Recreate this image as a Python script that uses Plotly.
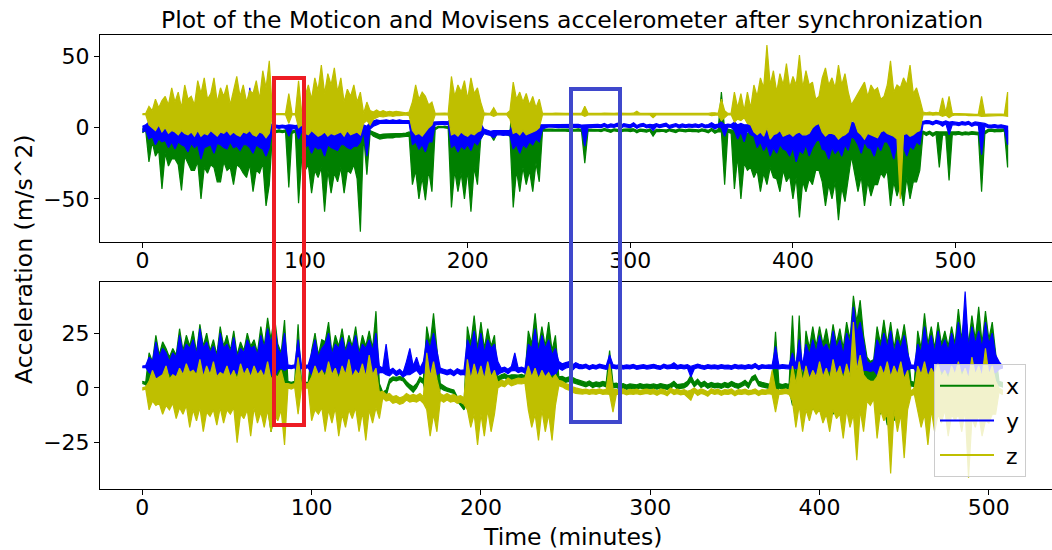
import numpy as np
import plotly.graph_objects as go

# ---------------- data ----------------
# Each signal is stored as its per-bin maximum (hi) and minimum (lo), one bin every 2 minutes,
# exactly as a dense accelerometer trace looks when drawn on screen.
bin_minutes = 2.0

# ---- Top panel (Moticon) ----
top_x_hi = [
    -1, 0, -2, -1, -3, -2, -3, -2, -4, -3,            # 0
    -4, -3, -3, -4, -5, -3, -4, -3, -6, -4,           # 20
    -4, -3, -5, -4, -3, -4, -5, -3, -4, -4,           # 40
    -5, -4, -3, -4, -5, -4, -4, -5, -6, -4,           # 60
    -1.5, -2, -1.5, -2, -1.5, -3, -2, -1.5, -4, -3,   # 80
    -4, -3, -5, -4, -4, -3, -5, -4, -4, -4,           # 100
    -5, -4, -3, -4, -5, -4, -4, -3, -2, -3,           # 120
    -2, -3, -4, -5, -4.5, -4.5, -4, -4.5, -4, -4.2,   # 140
    -4, -3.8, -3, -4, -5, -5, -6, -4, -3, -3,         # 160
    0, 1, 1, 1, 0.8, -4, -5, -4, -5, -4,              # 180
    -4, -5, -4, -3, -2, -2.5, -2.5, -3, -3, -2.5,     # 200
    -2.5, -2.5, -3, -3, 25, -4, -3, -4, -3, -4,       # 220
    -3, -3, -2, -1, -1, -0.8, -1, -1.2, -0.9, -1,     # 240
    -1, -1.2, -0.9, -1.1, -0.8, -1.2, -1, -1, -0.9, -1.1,   # 260
    -0.9, -1.3, -0.6, -1.2, -1.6, -0.8, -1.2, -1.5, -1, -0.9,  # 280
    -1.3, -0.8, -1.8, -1, -1.2, -1.6, -0.9, -3, -1.2, -1.3,  # 300
    -1.1, -1.6, -0.8, -1.2, -1.7, -0.9, -1.2, -1.5, -1, -1.3,  # 320
    -1.2, -1.6, -0.9, -1.3, -1.8, -0.5, -2, -1.3, 25, -2,  # 340
    -1, -1.5, -2, 2, -3, -3, -4, -3, -4, -5,          # 360
    -5, -6, -4, -5, -6, -5, -4, -6, -5, -6,           # 380
    -6, -5, -6, -5, -4, -6, -5, -4, -3, -5,           # 400
    -6, -5, -4, -6, -5, -6, -4, -5, -3, -4,           # 420
    -5, -4, -6, -5, -4, -6, -5, -4, -3, -4,           # 440
    -6, -5, -4, -6, -5, -4, -5, -6, -4, -3,           # 460
    -2.5, -3.5, -2.5, -4, -2.8, -3, -3, -3.4, -3, -3,  # 480
    -3, -2.8, -3.4, -3, -3.2, -2.8, -3, -3.2, -4, -2.8,  # 500
    -1.2, -1, -1.4, -1.1, -1.2, -0.9, -2,              # 520
]
top_x_lo = [
    -3.5, -2, -24, -10, -20, -16, -43, -18, -27, -22,
    -22, -26, -44, -20, -25, -30, -30, -24, -50, -28,
    -32, -26, -28, -38, -38, -24, -30, -28, -40, -26,
    -28, -32, -35, -26, -45, -30, -32, -25, -55, -40,
    -3, -3.5, -3, -3.5, -3, -42, -4, -3, -53, -20,
    -30, -26, -46, -30, -35, -28, -59, -30, -46, -32,
    -38, -28, -46, -30, -32, -26, -36, -73, -5, -33,
    -4, -6, -7, -8, -7.5, -7, -7, -7.2, -6.5, -6.6,
    -6.5, -6.2, -6, -40, -30, -50, -35, -51, -30, -45,
    -1.5, 0, 0.2, 0, -0.5, -56, -30, -45, -32, -50,
    -30, -59, -28, -40, -8, -4, -4.5, -5, -9, -4.5,
    -4, -4.5, -5, -6, -56, -30, -45, -28, -40, -30,
    -45, -25, -38, -2.5, -2.4, -2.2, -2.4, -2.6, -2.3, -2.5,
    -2.4, -2.6, -2.3, -2.5, -2.2, -2.6, -25, -2.4, -2.3, -2.5,
    -2.3, -2.8, -2, -2.6, -3.3, -2.2, -2.6, -3, -2.4, -2.3,
    -2.8, -2.2, -3.6, -2.4, -2.6, -3.2, -2.3, -6, -2.6, -2.8,
    -2.5, -3.3, -2.2, -2.7, -3.4, -2.3, -2.6, -3, -2.4, -2.8,
    -2.6, -3.2, -2.3, -2.8, -3.6, -2, -4, -2.8, -3, -40,
    -3, -4, -43, -20, -50, -25, -30, -28, -35, -30,
    -45, -32, -40, -28, -35, -36, -45, -30, -38, -34,
    -50, -35, -63, -38, -45, -36, -40, -30, -30, -38,
    -55, -40, -50, -38, -65, -42, -52, -36, -20, -32,
    -45, -34, -55, -38, -48, -40, -40, -32, -35, -30,
    -55, -38, -48, -40, -55, -35, -50, -38, -38, -30,
    -4, -5.5, -4.2, -6, -4.5, -28, -5, -5.2, -37, -4.8,
    -5, -4.5, -5.2, -4.8, -5, -4.5, -4.8, -5, -45, -4.5,
    -2.8, -2.4, -3, -2.6, -2.8, -2.3, -28,
]
top_y_hi = [
    1, 2, 4, 3, 4, 5, 4, 5, 3, 4,
    4, 5, 3, 5, 4, 6, 4, 6, 3, 5,
    5, 4, 6, 4, 5, 6, 3, 5, 4, 5,
    5, 8, 4, 28, 5, 6, 4, 20, 5, 4,
    1.5, 1.8, 1.5, 1.8, 1.5, 2, 1.8, 1.5, 2, 2,
    4, 5, 6, 5, 6, 4, 5, 7, 4, 5,
    4, 25, 5, 6, 4, 5, 4, 3, 2, 1,
    4, 5, 5.5, 5, 5.5, 5.5, 5, 5.5, 5, 5.5,
    5, 5, 5, 4, 6, 4, 5, 5, 6, 4,
    4, 4.5, 4.5, 4, 4.5, 6, 6, 5, 5, 4,
    5, 4, 4, 3, 3, -1, -2, -2.5, -2, -2,
    -2, -2.5, -2, -2, 4, 4, 3, 3, 2, 2,
    3, 3, 2, 2, 2, 2.5, 2, 2.2, 2, 2.4,
    2.2, 2, 2.4, 2.1, 2.3, 1.9, 2, 2.2, 2, 2.3,
    2.4, 2, 3, 1.8, 2.6, 2.2, 3.2, 1.5, 2.8, 2.4,
    2, 3.4, 1.5, 2.6, 3, 1.8, 2.4, 2, 2.8, 2,
    2.5, 3.2, 1.6, 2.4, 2.8, 1.8, 2.6, 2, 2.5, 2.2,
    2.6, 2, 2.8, 1.8, 2.2, 3.5, 2, 2.5, 4, 2,
    2.5, 2.2, 4, 2, 3, 2, 2, 3, 5, 4,
    5, 4, 3, 5, 5, 4, 2, 5, 6, 4,
    3, 4, 5, 4, 2, 5, 4, 4, 3, 4,
    5, 3, 3, 4, 6, 4, 2, 3, 4, 3,
    4, 3, 3, 4, 5, 3, 2, 4, 3, 3,
    5, 3, 3, 4, 6, 5, 4, 4, 2, 4,
    4.5, 5, 4.8, 4, 5.2, 4.5, 4, 4.8, 4, 4.2,
    4, 3.5, 4.2, 3.8, 4.4, 3, 4, 3.6, 3, 3,
    2, 1.8, 2.2, 1.7, 2, 1.6, 1,
]
top_y_lo = [
    -3, -2, -8, -6, -12, -8, -10, -9, -14, -10,
    -15, -10, -12, -13, -17, -11, -14, -12, -22, -14,
    -13, -12, -18, -11, -12, -14, -15, -10, -14, -13,
    -16, -12, -12, -14, -18, -12, -14, -15, -20, -14,
    -0.5, 0, -0.5, 0, -0.5, -6, -1, -0.5, -8, -2,
    -14, -12, -18, -13, -15, -14, -20, -12, -14, -15,
    -16, -12, -12, -14, -15, -13, -13, -10, -3, -20,
    -1, 1, 2, 3, 2.5, 3, 3, 3, 3, 3,
    3, 3, 3, -12, -10, -15, -12, -17, -10, -10,
    2, 2.5, 2.5, 2, 2.5, -14, -12, -17, -13, -15,
    -12, -16, -10, -12, -8, -4, -5, -5.5, -7, -5,
    -5, -5.5, -5, -5.5, -15, -12, -18, -12, -14, -10,
    -12, -8, -10, -1, 0, 0.5, 0, 0.2, 0, 0.4,
    0.2, 0, 0.4, 0.1, 0.3, -0.1, -13, 0.2, 0, 0.3,
    0.4, 0, 0.8, -0.2, 0.6, 0.2, 1, -0.5, 0.8, 0.4,
    0, 1, -0.5, 0.6, 1, -0.2, 0.4, -2, 0.8, 0,
    0.5, 1, -0.4, 0.4, 0.8, -0.2, 0.6, 0, 0.5, 0.2,
    0.6, 0, 0.8, -0.2, 0.2, 0.5, -1, 0.5, 0, -6,
    0.5, 0.2, -2, -8, -3, -10, -2, -5, -6, -14,
    -10, -16, -12, -20, -14, -18, -12, -15, -16, -20,
    -14, -24, -16, -18, -12, -20, -14, -10, -8, -15,
    -16, -22, -14, -18, -15, -20, -12, -16, -6, -8,
    -12, -18, -10, -14, -15, -20, -12, -16, -10, -10,
    -14, -22, -12, -18, -14, -20, -13, -15, -10, -12,
    2.5, 3, 2.8, 2, 3.2, 2.5, 1, 2.8, -5, 2.2,
    2, 1.5, 2.2, 1.8, 2.4, 1, 2, 1.6, -19, 1,
    0, -0.2, 0.2, -0.3, 0, -0.4, -12,
]
top_z_hi = [
    9.8, 10, 15, 12, 20, 14, 19, 22, 16, 28,
    18, 25, 14, 30, 20, 22, 16, 33, 24, 35,
    20, 24, 35, 18, 28, 22, 30, 16, 26, 36,
    22, 30, 18, 26, 24, 33, 20, 40, 28, 47,
    10, 9.8, 10, 9.9, 10, 24, 10, 9.9, 33, 10,
    22, 30, 20, 35, 26, 44, 24, 38, 30, 42,
    25, 35, 18, 27, 22, 30, 18, 25, 10, 18,
    12, 11, 12.5, 11, 12, 11, 11.5, 11, 11.5, 11,
    11, 10.5, 11, 18, 30, 20, 25, 22, 16, 18,
    10, 10.2, 10, 10.3, 10, 36, 22, 30, 25, 33,
    20, 35, 24, 28, 18, 10.5, 10, 10.2, 14, 10,
    10, 9.9, 10, 12, 32, 20, 25, 18, 24, 16,
    22, 14, 20, 10, 10.2, 10, 10.1, 10.2, 10, 10,
    10, 10.1, 10, 10, 10.2, 10, 15, 10.1, 10, 10.2,
    10, 10.1, 10.2, 10, 10, 10.1, 10.2, 10, 10.1, 10,
    10, 10.2, 11.5, 10, 10.1, 10.2, 10, 10, 10.1, 10,
    10.1, 10, 10, 10.2, 10, 10.1, 10, 10.2, 10, 10.1,
    10, 10.2, 10, 10.1, 10, 10.5, 10.4, 10, 20, 12,
    10, 10.2, 25, 14, 24, 12, 25, 14, 30, 22,
    35, 28, 58, 30, 40, 25, 38, 30, 45, 28,
    36, 30, 51, 28, 40, 30, 32, 20, 22, 35,
    42, 30, 35, 28, 44, 30, 38, 25, 16, 20,
    25, 28, 32, 22, 30, 26, 28, 20, 22, 30,
    47, 25, 30, 28, 35, 30, 44, 24, 28, 20,
    11, 10.5, 11, 10.5, 10.8, 10.5, 21, 10.5, 22, 10,
    10, 9.8, 9.6, 9.8, 9.5, 9.6, 9.4, 9.5, 22, 9.3,
    9.5, 9.6, 9.4, 9.5, 9.6, 9.4, 25,
]
top_z_lo = [
    9.2, 9.2, 2, 0, -2, 2, -3, 0, -4, -2,
    -3, -5, -2, -4, -5, -3, -6, -2, -6, -4,
    -5, -2, -4, -6, -3, -4, -2, -5, -3, -5,
    -6, -3, -4, -2, -5, -6, -3, -4, -7, -4,
    9.2, 9, 9.2, 9.1, 9, 3, 9, 9.1, 0, 2,
    -4, -5, -2, -4, -6, -5, -3, -6, -4, -5,
    -4, -3, -6, -2, -5, -4, -3, -5, 3, 5,
    2, 6, 7, 8, 7.5, 8, 8.5, 8, 8.5, 8.5,
    8.5, 9, 8.5, -2, -5, -4, -6, -3, 0, 2,
    9, 9.2, 9, 9.1, 9, -5, -4, -6, -3, -5,
    -6, -4, -5, -3, -2, 8.8, 9, 9, 8, 9,
    9, 9, 9, 6, -4, -3, -5, -2, -5, -4,
    -3, -2, 0, 9, 9.1, 9, 9.1, 9, 9.1, 9,
    9.1, 9, 9.1, 9, 9, 9.1, 8, 9, 9.1, 9,
    9, 9.1, 9, 9, 9.1, 9, 9, 9.1, 9, 9,
    9.1, 9, 9, 9.1, 9, 9, 9.1, 7, 9, 9,
    9, 9.1, 9, 9, 9.1, 9, 9, 9.1, 9, 9,
    9.1, 9, 9, 9.1, 9, 8.5, 8.6, 9, 5, 7,
    9, 9.1, 4, 6, 5, 7, 3, 2, -3, -5,
    -3, -6, 0, -8, -5, -4, -2, -6, -5, -4,
    -6, -4, -3, -5, -5, -4, 0, 2, 3, -3,
    -6, -4, -4, -5, -8, -6, -5, -3, 5, 4,
    -3, -5, -8, -4, -5, -6, -7, -3, -2, -4,
    -5, -6, -8, -50, -5, -4, -6, -5, -3, -2,
    9, 9, 9.2, 8.8, 9, 9, 8, 8.8, 7, 8.5,
    9, 8.8, 8.6, 8.8, 8.5, 8.6, 8.4, 8.5, 8, 8.3,
    8.5, 8.6, 8.4, 8.5, 8.6, 8.4, 8,
]

# ---- Bottom panel (Movisens) ----
bot_x_hi = [
    3, 2.5, 16, 12, 24, 15, 21, 18, 14, 18,          # 0
    15, 27, 17, 24, 19, 26, 16, 29, 19, 25,          # 20
    17, 22, 15, 28, 19, 24, 17, 26, 15, 21,          # 40
    17, 25, 19, 22, 16, 28, 19, 32, 22, 33,          # 60
    20, 16, 31, 3, 2.5, 3, 29, 2.5, 2.6, 2.4,        # 80
    17, 25, 15, 22, 21, 30, 16, 24, 19, 27,          # 100
    17, 24, 19, 28, 16, 24, 19, 26, 18, 35,          # 120
    2, -2, -1, 4, 5, 4.8, 5.2, 4.8, 3, 1.5,          # 140
    0.5, 2, 5, 4, 28, 20, 34, 18, 2, 1,              # 160
    0, -0.5, -1, -4, -6, -8, 28, 20, 33, 18,         # 180
    30, 18, 27, 19, 24, 5, 6, 6.5, 5.5, 6,           # 200
    6, 5.8, 6.2, 5.5, 26, 20, 34, 18, 28, 19,        # 220
    30, 17, 24, 5, 5.3, 4.5, 5, 4.8, 4, 3.5,         # 240
    3, 2.5, 3.2, 2.2, 2.8, 2.4, 3, 2.5, 17, 2,       # 260
    2.2, 1.5, 2, 1.3, 1.8, 1.6, 1.4, 2, 1.5, 1.7,    # 280
    1.5, 1.8, 1.4, 2, 1.6, 1.3, 1.9, 3, 1.5, 1.8,    # 300
    2, 3, 5.8, 2.5, 4, 2.2, 3, 1.8, 2.5, 2,          # 320
    2.2, 1.8, 2.5, 2, 3, 2.2, 1.8, 2.5, 3.5, 2,      # 340
    5, 6, 3, 2.5, 2, 1.8, 2.2, 25.6, 2, 1.5,         # 360
    2, 1.5, 33, 2, 33, 2, 26, 18, 28, 19,            # 380
    28, 20, 27, 18, 29, 20, 27, 18, 30, 22,          # 400
    42, 30, 40, 24, 14, 12, 13, 28, 20, 31,          # 420
    20, 30, 18, 27, 20, 29, 18, 3, 2.5, 26,          # 440
    18, 34, 20, 28, 18, 30, 20, 26, 19, 28,          # 460
    20, 36, 22, 35, 20, 33, 22, 37, 20, 35,          # 480
    22, 30, 16, 3, 2.5,                              # 500
]
bot_x_lo = [
    2, 1.5, -2, -3, -5, -4, -5, -3, -6, -4,
    -6, -4, -5, -3, -8, -4, -5, -3, -7, -5,
    -4, -6, -8, -4, -5, -3, -6, -4, -9, -5,
    -5, -6, -7, -4, -6, -5, -10, -8, -20, -12,
    -4, -2, 1, 1.2, 0.8, 1.5, 0, 1, 1.2, 0.8,
    -3, -5, -6, -4, -4, -6, -8, -5, -5, -6,
    -7, -4, -5, -6, -6, -4, -5, -4, -8, -6,
    -1, -5, -4, 2, 3.5, 3.2, 3.8, 3.2, 1, -0.5,
    -2, 0, 3, 2, -5, -4, -6, -8, 0, -1,
    -1.5, -2, -2.5, -6, -8, -10, -6, -5, -6, -4,
    -8, -6, -5, -7, -4, 2, 4, 4.5, 3.5, 4,
    4, 3.8, 4.2, 3.5, -6, -4, -5, -4, -7, -5,
    -5, -6, -4, 3, 3.3, 2.5, 3, 2.8, 2, 1.5,
    1, 0.5, 1.2, 0.2, 0.8, 0.4, 1, 0.5, 0, 0,
    0.2, -0.5, 0, -0.7, -0.2, -0.4, -0.6, 0, -0.5, -0.3,
    -0.5, -0.2, -0.6, 0, -0.4, -0.7, -0.1, 1, -0.5, -0.2,
    0, 1, 3, 0.5, 2, 0.2, 1, -0.2, 0.5, 0,
    0.2, -0.2, 0.5, 0, 1, 0.2, -0.2, 0.5, 1.5, 0,
    3, 4, 1, 0.5, 0, -0.2, 0.2, -5, 0, -0.5,
    0, -0.5, -8, 0, -10, 0, -8, -6, -10, -8,
    -10, -8, -6, -9, -12, -8, -8, -10, -5, -8,
    -10, -12, -8, -9, -3, -4, -2, -8, -12, -9,
    -17, -12, -15, -9, -8, -10, -6, 1, 0.5, -8,
    -8, -10, -12, -8, -10, -9, -6, -8, -5, -10,
    -6, -8, -4, -10, -10, -8, -8, -9, -12, -8,
    -8, -6, -2, 1, 0.5,
]
bot_y_hi = [
    10, 10.2, 14, 12, 21, 14, 18, 16, 12, 16,
    14, 24, 16, 20, 18, 22, 15, 27, 18, 21,
    16, 19, 14, 25, 18, 20, 16, 23, 14, 18,
    16, 22, 18, 19, 15, 24, 18, 27, 20, 29,
    18, 15, 25, 10.5, 10.2, 10.5, 22, 10.4, 10.2, 10.5,
    16, 22, 14, 18, 20, 25, 15, 20, 18, 23,
    16, 21, 18, 24, 15, 20, 18, 22, 17, 25,
    10, 9, 20, 8, 9, 7.5, 8.5, 7, 12, 18,
    10, 14, 9, 12, 22, 18, 25, 16, 9, 8.5,
    8, 8.5, 7.5, 8.8, 8, 8.2, 22, 18, 26, 16,
    25, 16, 22, 18, 20, 12, 9, 9.5, 8.5, 9.8,
    16, 9, 9.5, 8.8, 20, 18, 27, 16, 24, 18,
    22, 15, 18, 12, 11, 11.5, 12, 10.5, 11.5, 10.8,
    10.4, 10.8, 10, 10.6, 10.2, 10.8, 10.4, 10.1, 15, 10.6,
    10.3, 10.6, 10.2, 10.5, 10.3, 10.7, 10.1, 10.4, 10.6, 10.2,
    10.4, 10.7, 10.3, 10, 10.8, 10.3, 10.5, 11.5, 10.2, 10.6,
    10.3, 10.6, 9.8, 10.2, 10.8, 10.4, 10.1, 10.6, 10.3, 10.5,
    10.2, 10.6, 10.3, 10.4, 10.1, 10.7, 10.3, 10.5, 10.2, 10.6,
    10.3, 11.2, 10, 10.6, 10.3, 10.5, 10.4, 19, 10.3, 10.6,
    10.4, 10.3, 16, 10.4, 22, 10.3, 20, 15, 22, 16,
    24, 18, 20, 16, 26, 18, 22, 15, 25, 20,
    37, 25, 30, 20, 12, 11, 12, 22, 18, 25,
    18, 26, 16, 22, 18, 24, 16, 10.5, 10.3, 20,
    16, 28, 18, 24, 16, 26, 18, 22, 17, 25,
    18, 30, 20, 44, 18, 28, 20, 26, 18, 30,
    20, 25, 15, 12, 10,
]
bot_y_lo = [
    9.2, 9.4, 7, 6, 4, 6, 4, 5, 7, 5,
    5, 6, 6, 5, 4, 6, 8, 5, 5, 6,
    7, 5, 5, 6, 6, 5, 4, 6, 7, 5,
    5, 6, 6, 5, 4, 5, 5, 6, 6, 5,
    8, 9, 8, 9, 8.8, 9.2, 7, 9, 8.8, 9.2,
    6, 5, 5, 6, 8, 5, 4, 5, 7, 6,
    5, 6, 6, 5, 4, 6, 5, 6, 7, 5,
    7, 7, 6, 5.5, 7, 5.5, 6.5, 5, 6, 6,
    7, 8, 6, 7, 6, 5, 5, 6, 7, 6.5,
    6, 6.5, 5.5, 6.8, 6, 6.2, 5, 5, 6, 5,
    6, 5, 5, 7, 6, 6, 7, 7.5, 6.5, 7.8,
    8, 7, 7.5, 6.8, 5, 5, 6, 6, 5, 5,
    5, 6, 6, 9, 8, 9, 9.5, 8, 9.5, 8.8,
    8.8, 9.2, 8.4, 9, 8.6, 9.2, 8.8, 8.5, 9, 9,
    8.7, 9, 8.6, 8.9, 8.7, 9.1, 8.5, 8.8, 9, 8.6,
    8.8, 9.1, 8.7, 8.4, 9.2, 8.7, 8.9, 9, 8.6, 9,
    8.7, 9, 5, 8.6, 9.2, 8.8, 8.5, 9, 8.7, 8.9,
    8.6, 9, 8.7, 8.8, 8.5, 9.1, 8.7, 8.9, 8.6, 9,
    8.7, 9.4, 8.4, 9, 8.7, 8.9, 8.8, 9, 8.7, 9,
    8.8, 8.7, 9, 8.8, 9, 8.7, 6, 6, 5, 5,
    6, 6, 7, 8, 5, 5, 6, 7, 6, 8,
    6, 6, 8, 8, 8, 7.5, 8, 6, 6, 7,
    7, 6, 8, 6, 6, 6, 8, 9, 8.8, 6,
    6, 6, 7, 6, 5, 6, 8, 6, 7, 6,
    7, 6, 8, 7, 6, 6, 8, 6, 7, 6,
    8, 7, 7, 8.5, 9,
]
bot_z_hi = [
    0, 0.5, 3, 8, 4, 5, 6, 10, 4, 6,
    5, 9, 6, 11, 7, 8, 6, 13, 5, 10,
    6, 12, 5, 7, 6, 10, 5, 8, 4, 11,
    6, 9, 5, 10, 6, 8, 5, 12, 4, 6,
    5, 8, 2, 2, 1.5, 2, 14, 2, 1.8, 2,
    5, 10, 6, 8, 5, 12, 6, 9, 4, 10,
    6, 13, 5, 8, 6, 11, 5, 15, 6, 9,
    -2, -1.5, -3, -2.5, -4, -3.5, -4.5, -4, -2.5, -3.5,
    -3, -3.5, -2.5, -4, 16, 5, 12, 4, -2.5, -3.5,
    -2.5, -3.5, -3, -4, -3.5, -4.5, 13, 4, 11, 5,
    10, 4, 12, 5, 8, 2.5, 3.5, 3, 4.5, 3.5,
    4, 4.5, 4.2, 4.6, 10, 5, 9, 4, 8, 5,
    7, 4, 6, 3.5, 3, 2, 1.5, 0.5, 0, -0.5,
    -0.8, -0.5, -1, -0.6, -0.9, -0.4, -1, -0.7, 11, -0.5,
    -0.8, -1, -0.5, -1.2, -0.7, -0.9, -0.6, -1.1, -0.8, -0.5,
    -1, -0.6, -1.4, -0.5, -0.8, -1.6, 0, -1, -0.6, -1.2,
    -0.8, -1.5, -1, 0, -1.2, -0.5, -1, -1.8, -0.4, -1,
    -0.6, -1.4, -0.8, -1, -0.5, -1.6, -0.8, -1, -0.6, -1.2,
    -1, -0.5, -1.5, -0.8, -1, -0.6, 8, -0.5, -1, -0.8,
    -0.5, -1, 10, 2, 12, 3, 10, 4, 8, 5,
    12, 5, 9, 4, 13, 6, 10, 4, 11, 5,
    30, 8, 15, 6, 4, 3, 3, 5, 10, 6,
    12, 5, 10, 6, 12, 4, 8, -1.5, 0, 10,
    6, 12, 5, 9, 6, 11, 5, 8, 4, 10,
    6, 12, 5, 9, 4, 14, 6, 10, 5, 18,
    6, 10, 3, 0, -1,
]
bot_z_lo = [
    -1, -0.5, -10, -6, -8, -7, -12, -8, -10, -7,
    -14, -9, -12, -8, -18, -10, -15, -9, -20, -11,
    -13, -10, -17, -9, -16, -10, -12, -9, -25, -12,
    -14, -10, -22, -9, -16, -11, -18, -10, -20, -12,
    -15, -10, -26, 0, -0.5, 0.2, -12, 0, -0.2, 0,
    -15, -10, -12, -9, -20, -10, -16, -9, -22, -12,
    -18, -10, -14, -9, -20, -11, -24, -10, -16, -9,
    -14, -4.5, -6, -5.5, -7, -6.5, -7.5, -7, -5.5, -6.5,
    -6, -6.5, -5.5, -7, -10, -22, -12, -20, -5.5, -6.5,
    -5.5, -6.5, -6, -7, -6.5, -7.5, -10, -18, -12, -26,
    -12, -22, -10, -20, -12, 0, 1, 0.5, 2, 1,
    1.5, 2, 1.8, 2.2, -10, -18, -12, -24, -10, -20,
    -12, -24, -8, 1, 0.5, -0.5, -1, -2, -2.5, -2.8,
    -2.8, -2.5, -3, -2.6, -2.9, -2.4, -3, -2.7, -3, -11,
    -2.8, -3, -2.5, -3.2, -2.7, -2.9, -2.6, -3.1, -2.8, -2.5,
    -3, -2.6, -3.4, -2.5, -2.8, -3.6, -2, -3, -2.6, -3.2,
    -2.8, -4, -5.6, -2, -3.5, -2.5, -3, -3.8, -2.4, -3,
    -2.6, -3.4, -2.8, -3, -2.5, -3.6, -2.8, -3, -2.6, -3.2,
    -3, -2.5, -3.5, -2.8, -3, -2.6, -3, -11, -3, -2.8,
    -2.5, -3, -6, -18, -8, -20, -10, -15, -9, -12,
    -10, -16, -12, -20, -10, -14, -12, -23, -10, -18,
    -12, -33, -10, -20, -6, -8, -5, -23, -10, -15,
    -12, -39, -10, -20, -12, -32, -10, -3.5, -3, -10,
    -18, -12, -26, -10, -20, -12, -16, -10, -22, -12,
    -15, -12, -20, -10, -41, -14, -18, -12, -22, -15,
    -16, -12, -12, -2, -3,
]

series_names = ["x", "y", "z"]
series_colors = ["#008000", "#0000ff", "#bfbf00"]
x_tick_values = [0, 100, 200, 300, 400, 500]
top_y_ticks = [-50, 0, 50]
bot_y_ticks = [-25, 0, 25]

# ---------------- figure ----------------
W, H = 1052, 550
ML, MR, MT, MB = 100, 0, 35, 61
PW, PH = W - ML - MR, H - MT - MB


def px_x(p):
    return (p - ML) / PW


def px_y(p):
    return (H - MB - p) / PH


FONT = "DejaVu Sans"
fig = go.Figure()


def add_band(hi, lo, color, xa, ya):
    n = min(len(hi), len(lo))
    t = list(np.arange(n) * bin_minutes)
    xs = t + t[::-1]
    ys = list(hi[:n]) + list(lo[:n])[::-1]
    fig.add_trace(go.Scatter(x=xs, y=ys, mode="lines", fill="toself", fillcolor=color,
                             line=dict(color=color, width=1.2), showlegend=False,
                             hoverinfo="skip", xaxis=xa, yaxis=ya))


for (hi, lo), col in zip([(top_x_hi, top_x_lo), (top_y_hi, top_y_lo), (top_z_hi, top_z_lo)],
                         series_colors):
    add_band(hi, lo, col, "x", "y")
for (hi, lo), col in zip([(bot_x_hi, bot_x_lo), (bot_y_hi, bot_y_lo), (bot_z_hi, bot_z_lo)],
                         series_colors):
    add_band(hi, lo, col, "x2", "y2")

# legend entries (line keys)
for name, col in zip(series_names, series_colors):
    fig.add_trace(go.Scatter(x=[None], y=[None], mode="lines", name="\u00a0" + name,
                             legendgroup=name, line=dict(color=col, width=2), showlegend=True,
                             xaxis="x2", yaxis="y2"))

axis_common = dict(showline=True, linecolor="black", linewidth=1, ticks="outside",
                   ticklen=5, tickwidth=1, tickcolor="black", showgrid=False,
                   zeroline=False, automargin=False,
                   tickfont=dict(family=FONT, size=22, color="black"))

fig.update_layout(
    width=W, height=H,
    margin=dict(l=ML, r=MR, t=MT, b=MB, pad=0),
    paper_bgcolor="white", plot_bgcolor="white",
    font=dict(family=FONT, size=22, color="black"),
    xaxis=dict(domain=[0, 1], anchor="y", range=[-26.1, 559.3], tickvals=x_tick_values,
               mirror=True, ticklabelstandoff=-6, **axis_common),
    yaxis=dict(domain=[px_y(242), 1], anchor="x", range=[-80.3, 65.1], tickvals=top_y_ticks,
               **axis_common),
    xaxis2=dict(domain=[0, 1], anchor="y2", range=[-25.0, 537.3], tickvals=x_tick_values,
                mirror=True, ticklabelstandoff=-6, **axis_common),
    yaxis2=dict(domain=[0, px_y(282)], anchor="x2", range=[-46.1, 48.3], tickvals=bot_y_ticks,
                **axis_common),
    legend=dict(x=px_x(934), y=px_y(364), xanchor="left", yanchor="top",
                bgcolor="rgba(255,255,255,0.8)", bordercolor="#cccccc", borderwidth=1,
                font=dict(family=FONT, size=22, color="black"), itemwidth=54,
                tracegroupgap=3),
    showlegend=True,
)

fig.add_annotation(text="Plot of the Moticon and Movisens accelerometer after synchronization",
                   xref="paper", yref="paper", x=px_x(572), y=px_y(20), showarrow=False,
                   xanchor="center", yanchor="middle", font=dict(family=FONT, size=23.5, color="black"))
fig.add_annotation(text="Time (minutes)", xref="paper", yref="paper", x=px_x(572), y=px_y(537),
                   showarrow=False, xanchor="center", yanchor="middle",
                   font=dict(family=FONT, size=23.5, color="black"))
fig.add_annotation(text="Acceleration (m/s^2)", xref="paper", yref="paper", x=px_x(24), y=px_y(259),
                   showarrow=False, xanchor="center", yanchor="middle", textangle=-90,
                   font=dict(family=FONT, size=23.5, color="black"))

fig.add_shape(type="rect", xref="paper", yref="paper", x0=px_x(274), x1=px_x(304),
              y0=px_y(78), y1=px_y(425), line=dict(color="#ED1C24", width=4),
              fillcolor="rgba(0,0,0,0)", layer="above")
fig.add_shape(type="rect", xref="paper", yref="paper", x0=px_x(571), x1=px_x(620),
              y0=px_y(89), y1=px_y(422), line=dict(color="#3F48CC", width=4),
              fillcolor="rgba(0,0,0,0)", layer="above")

# remove the browser's default page margin so the figure sits at the window's top-left corner
fig.write_html("out.html", config={"displayModeBar": False},
               post_script="document.body.style.margin='0';document.body.style.overflow='hidden';")
